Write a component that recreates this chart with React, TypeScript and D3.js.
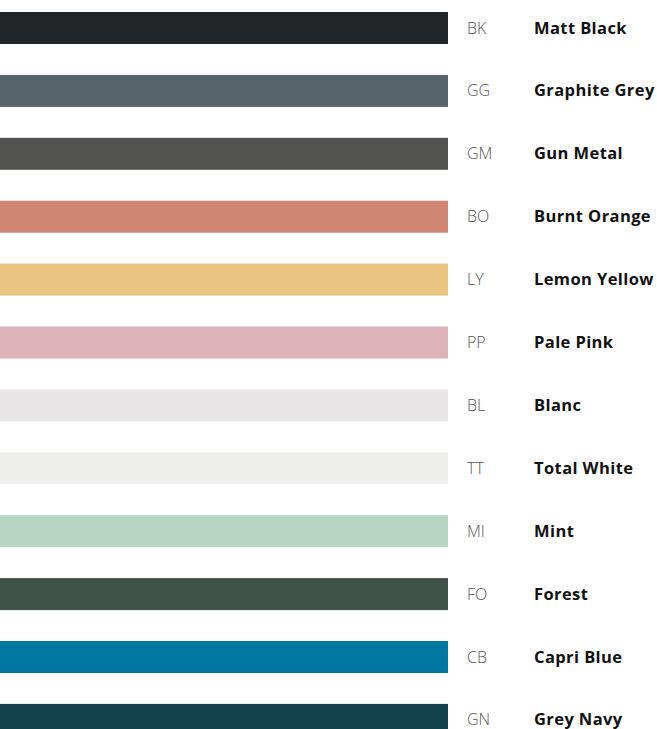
import React from "react";
import * as d3 from "d3";

const codes = ["BK", "GG", "GM", "BO", "LY", "PP", "BL", "TT", "MI", "FO", "CB", "GN"];
const names = [
  "Matt Black",
  "Graphite Grey",
  "Gun Metal",
  "Burnt Orange",
  "Lemon Yellow",
  "Pale Pink",
  "Blanc",
  "Total White",
  "Mint",
  "Forest",
  "Capri Blue",
  "Grey Navy",
];
const colors = [
  "#212528",
  "#56636b",
  "#525250",
  "#cf8673",
  "#e9c581",
  "#dcb4b8",
  "#e6e4e4",
  "#eeeeec",
  "#b6d5c3",
  "#3e5248",
  "#0077a1",
  "#123f4c",
];

const W = 657;
const H = 729;

export default function App() {
  const y = d3
    .scaleBand<string>()
    .domain(codes)
    .range([12, 12 + codes.length * 62.9])
    .padding(0);
  const x = d3.scaleLinear().domain([0, 1]).range([0, 448]);
  const barH = 32;

  return (
    <svg
      width={W}
      height={H}
      style={{ position: "absolute", left: 0, top: 0, background: "#fff" }}
    >
      {codes.map((c, i) => {
        const y0 = y(c)!;
        const cy = y0 + barH / 2;
        return (
          <g key={c}>
            <rect x={x(0)} y={y0} width={x(1) - x(0)} height={barH} fill={colors[i]} />
            <text
              x={467}
              y={cy + 5.5}
              fontFamily="'Open Sans', 'Noto Sans', sans-serif"
              fontWeight={300}
              fontSize={16}
              fill="#555"
            >
              {c}
            </text>
            <text
              x={534}
              y={cy + 5.5}
              fontFamily="'Open Sans', 'Noto Sans', sans-serif"
              fontWeight={700}
              fontSize={16.5}
              letterSpacing={0.4}
              fill="#111"
            >
              {names[i]}
            </text>
          </g>
        );
      })}
    </svg>
  );
}
